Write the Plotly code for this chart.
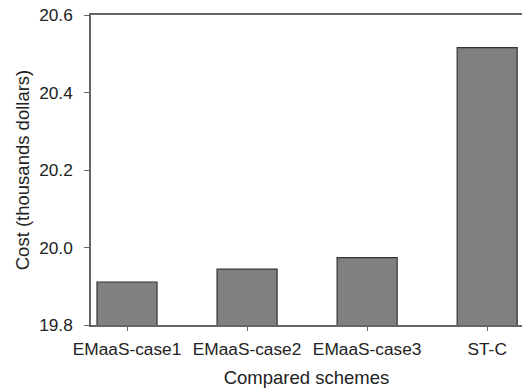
import plotly.graph_objects as go

categories = ["EMaaS-case1", "EMaaS-case2", "EMaaS-case3", "ST-C"]
costs = [19.911, 19.944, 19.974, 20.516]
y_ticks = [19.8, 20.0, 20.2, 20.4, 20.6]
y_tick_labels = ["19.8", "20.0", "20.2", "20.4", "20.6"]

font_family = "Liberation Sans, Arial, sans-serif"
tick_size = 17.3
title_size = 18.5

fig = go.Figure(
    go.Bar(
        x=categories,
        y=costs,
        width=0.5,
        marker=dict(color="#808080", line=dict(color="#333333", width=1.2)),
    )
)

fig.update_layout(
    width=522,
    height=391,
    margin=dict(l=91, r=0, t=15, b=66),
    plot_bgcolor="white",
    paper_bgcolor="white",
    showlegend=False,
    font=dict(family=font_family, size=tick_size, color="#222222"),
)

fig.update_xaxes(
    range=[-0.3, 3.29],
    showline=True,
    linecolor="#666666",
    linewidth=1.5,
    mirror=True,
    ticks="outside",
    ticklen=4,
    tickcolor="#666666",
    showgrid=False,
    ticklabelstandoff=3,
    tickfont=dict(size=tick_size),
    title=dict(text="Compared schemes", font=dict(size=title_size), standoff=14),
)

fig.update_yaxes(
    range=[19.8, 20.6],
    tickvals=y_ticks,
    ticktext=y_tick_labels,
    showline=True,
    linecolor="#666666",
    linewidth=1.5,
    ticks="outside",
    ticklen=5,
    tickcolor="#666666",
    showgrid=False,
    zeroline=False,
    ticklabelstandoff=8,
    tickfont=dict(size=tick_size),
    title=dict(text="Cost (thousands dollars)", font=dict(size=title_size), standoff=5),
)

fig.write_html(
    "out.html",
    config={"displayModeBar": False},
    post_script="document.body.style.margin='0';document.body.style.padding='0';",
)
